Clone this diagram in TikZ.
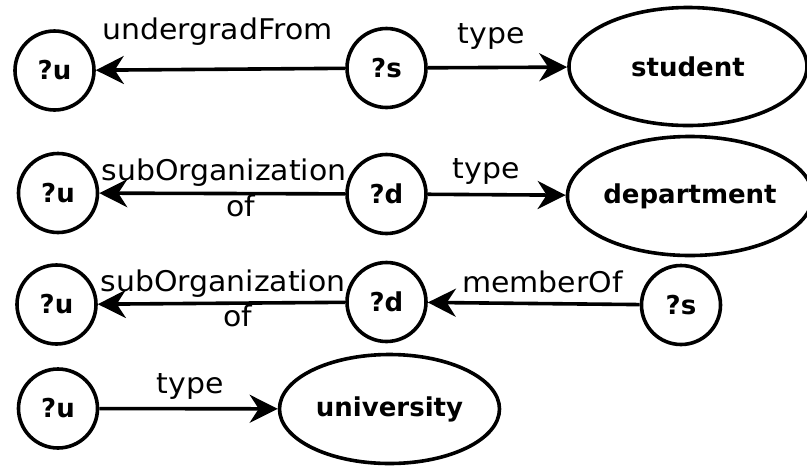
\documentclass[tikz,border=0pt]{standalone}
\usepackage{fontspec}
\setmainfont{DejaVu Sans}
\newfontfamily\edgefont[FakeStretch=1.05]{DejaVu Sans}
\usetikzlibrary{arrows.meta,shapes.geometric}

\tikzset{
  var/.style={circle,draw,line width=3.6pt,minimum size=79pt,inner sep=0pt,
    font=\fontsize{26}{30}\selectfont\bfseries},
  cls/.style={ellipse,draw,line width=3.6pt,inner sep=0pt,
    font=\fontsize{26}{30}\selectfont\bfseries},
  rel/.style={line width=3.6pt,-{Stealth[length=28pt,width=28pt,inset=9pt]}},
  lbl/.style={anchor=base,inner sep=0pt,align=center,
    font=\edgefont\fontsize{28.5}{35.5}\selectfont},
}

\begin{document}
\begin{tikzpicture}[x=1pt,y=-1pt]
\useasboundingbox (0,0) rectangle (807,467);

% row 1: ?s undergradFrom ?u, ?s type student
\node[var] (u1) at (54.5,70.5) {?u};
\node[var] (s1) at (386.5,68) {?s};
\node[cls,minimum width=238pt,minimum height=118pt] (student) at (688,66.5) {student};
\draw[rel] (s1) -- (u1);
\draw[rel] (s1) -- (student);
\node[lbl] (l1) at (217.5,39.5) {undergradFrom};
\node[lbl] (l2) at (491,43.5) {type};

% row 2: ?d subOrganizationOf ?u, ?d type department
\node[var] (u2) at (58,193) {?u};
\node[var] (d2) at (386.5,194) {?d};
\node[cls,minimum width=236pt,minimum height=119pt] (dept) at (690,196) {department};
\draw[rel] (d2) -- (u2);
\draw[rel] (d2) -- (dept);
\node[lbl] (l3) at (224,216) {subOrganization\\\hspace*{34pt}of};
\node[lbl] (l4) at (486,178) {type};

% row 3: ?s memberOf ?d, ?d subOrganizationOf ?u
\node[var] (u3) at (56.5,304.5) {?u};
\node[var] (d3) at (386.5,302) {?d};
\node[var] (s3) at (681,305) {?s};
\draw[rel] (d3) -- (u3);
\draw[rel] (s3) -- (d3);
\node[lbl] (l5) at (223,326.5) {subOrganization\\\hspace*{30pt}of};
\node[lbl] (l6) at (542.5,292.5) {memberOf};

% row 4: ?u type university
\node[var] (u4) at (58,408.5) {?u};
\node[cls,minimum width=220pt,minimum height=109pt] (univ) at (389.5,409) {university};
\draw[rel] (u4) -- (univ);
\node[lbl] (l7) at (190,393) {type};
\end{tikzpicture}
\end{document}
